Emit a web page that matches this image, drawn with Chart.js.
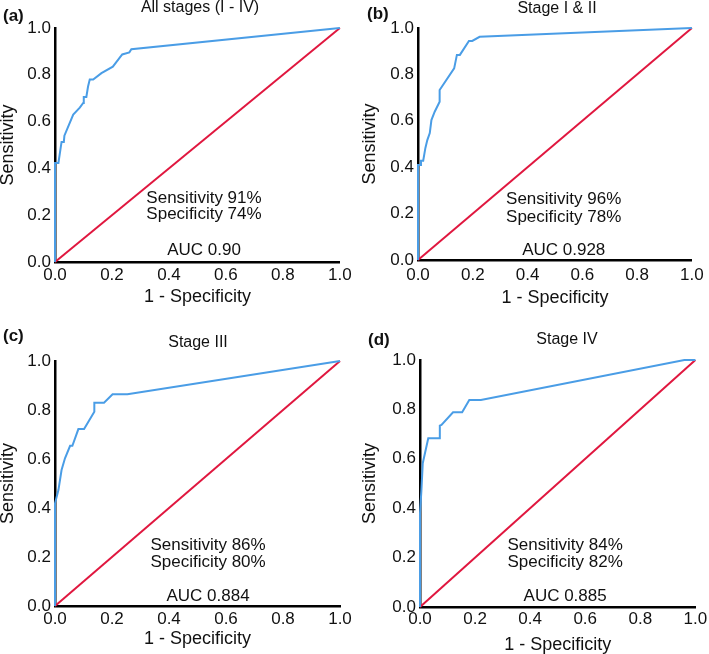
<!DOCTYPE html>
<html><head><meta charset="utf-8">
<script src="https://cdn.jsdelivr.net/npm/chart.js@4/dist/chart.umd.min.js"></script>
<style>
html,body{margin:0;padding:0;background:#fff;}
#wrap{position:relative;width:709px;height:654px;overflow:hidden;}
.panel{position:absolute;}
</style></head><body>
<div id="wrap">
<div class="panel" style="left:0;top:0;width:355px;height:320px"><canvas id="ca"></canvas></div>
<div class="panel" style="left:355px;top:0;width:354px;height:320px"><canvas id="cb"></canvas></div>
<div class="panel" style="left:0;top:320px;width:355px;height:334px"><canvas id="cc"></canvas></div>
<div class="panel" style="left:355px;top:320px;width:354px;height:334px"><canvas id="cd"></canvas></div>
</div>
<script>
// ---- data ----
const tickValues = [0, 0.2, 0.4, 0.6, 0.8, 1.0];
const tickLabels = ['0.0', '0.2', '0.4', '0.6', '0.8', '1.0'];

const fprA = [0, 0, 0.012, 0.023, 0.031, 0.033, 0.064, 0.087, 0.099, 0.101, 0.110, 0.116, 0.122, 0.134, 0.163, 0.203, 0.236, 0.261, 0.268, 1.0];
const tprA = [0, 0.423, 0.423, 0.513, 0.513, 0.540, 0.630, 0.660, 0.680, 0.705, 0.705, 0.750, 0.780, 0.780, 0.807, 0.835, 0.887, 0.896, 0.909, 1.0];

const fprB = [0, 0, 0.011, 0.011, 0.019, 0.027, 0.034, 0.043, 0.049, 0.061, 0.079, 0.079, 0.132, 0.142, 0.153, 0.186, 0.198, 0.225, 1.0];
const tprB = [0, 0.410, 0.410, 0.428, 0.428, 0.483, 0.517, 0.547, 0.603, 0.639, 0.682, 0.733, 0.826, 0.884, 0.884, 0.944, 0.944, 0.962, 1.0];

const fprC = [0, 0, 0.012, 0.023, 0.035, 0.053, 0.061, 0.082, 0.102, 0.138, 0.138, 0.172, 0.202, 0.254, 1.0];
const tprC = [0, 0.419, 0.473, 0.555, 0.603, 0.654, 0.654, 0.722, 0.722, 0.793, 0.830, 0.830, 0.864, 0.864, 1.0];

const fprD = [0, 0, 0.005, 0.010, 0.030, 0.072, 0.072, 0.078, 0.120, 0.153, 0.179, 0.221, 0.960, 1.0];
const tprD = [0, 0.380, 0.470, 0.582, 0.683, 0.683, 0.734, 0.737, 0.788, 0.788, 0.838, 0.838, 1.0, 1.0];

const refX = [0, 1];
const refY = [0, 1];

const panelLabels = ['(a)', '(b)', '(c)', '(d)'];
const panelTitles = ['All stages (I - IV)', 'Stage I & II', 'Stage III', 'Stage IV'];
const sensTexts = ['Sensitivity 91%', 'Sensitivity 96%', 'Sensitivity 86%', 'Sensitivity 84%'];
const specTexts = ['Specificity 74%', 'Specificity 78%', 'Specificity 80%', 'Specificity 82%'];
const aucTexts = ['AUC 0.90', 'AUC 0.928', 'AUC 0.884', 'AUC 0.885'];
const xTitle = '1 - Specificity';
const yTitle = 'Sensitivity';

// ---- layout / style ----
const FONT = '"Liberation Sans", Arial, sans-serif';
const BLUE = '#4a9de6';
const RED = '#e0173f';
const INK = '#111111';
const TICK_SIZE = 17, XT_SIZE = 18, YT_SIZE = 18, ANN_SIZE = 17, TITLE_SIZE = 16, LABEL_SIZE = 17;

const layouts = [
  {id:'ca', pad:{left:0,top:28,right:13,bottom:0}, yW:55, xH:58, xTickPad:3.3, yTitlePad:-2.3, xTitlePad:12.2, labelX:3, labelY:16, titleX:200, titleY:8,
   ann:{x:0.523, sens:0.274, spec:0.205, auc:0.051}},
  {id:'cb', pad:{left:0,top:28,right:11,bottom:0}, yW:63, xH:60, xTickPad:5.3, yTitlePad:4.7, xTitlePad:11.2, labelX:12, labelY:14, titleX:202, titleY:9,
   ann:{x:0.532, sens:0.263, spec:0.185, auc:0.043}},
  {id:'cc', pad:{left:0,top:41,right:15,bottom:0}, yW:55, xH:48, xTickPad:2.8, yTitlePad:-2.8, xTitlePad:4.2, labelX:3, labelY:16, titleX:198, titleY:23,
   ann:{x:0.537, sens:0.249, spec:0.178, auc:0.038}},
  {id:'cd', pad:{left:0,top:40,right:10,bottom:0}, yW:65, xH:47, xTickPad:1.8, yTitlePad:4.7, xTitlePad:-1.8, labelX:13, labelY:20, titleX:212, titleY:20,
   ann:{x:0.527, sens:0.251, spec:0.181, auc:0.042}}
];
const series = [[fprA, tprA], [fprB, tprB], [fprC, tprC], [fprD, tprD]];

function zip(xs, ys) { return xs.map((x, i) => ({x: x, y: ys[i]})); }

const textPlugin = {
  id: 'panelText',
  afterDraw(chart, args, opts) {
    const ctx = chart.ctx;
    const L = opts.layout, i = opts.index;
    const xs = chart.scales.x, ys = chart.scales.y;
    ctx.save();
    ctx.fillStyle = INK;
    ctx.textBaseline = 'middle';
    ctx.font = 'bold ' + LABEL_SIZE + 'px ' + FONT;
    ctx.textAlign = 'left';
    ctx.fillText(panelLabels[i], L.labelX, L.labelY);
    ctx.font = TITLE_SIZE + 'px ' + FONT;
    ctx.textAlign = 'center';
    ctx.fillText(panelTitles[i], L.titleX, L.titleY);
    ctx.font = ANN_SIZE + 'px ' + FONT;
    const ax = xs.getPixelForValue(L.ann.x);
    ctx.fillText(sensTexts[i], ax, ys.getPixelForValue(L.ann.sens));
    ctx.fillText(specTexts[i], ax, ys.getPixelForValue(L.ann.spec));
    ctx.fillText(aucTexts[i], ax, ys.getPixelForValue(L.ann.auc));
    ctx.restore();
  }
};

function axis(L, isX) {
  return {
    type: 'linear', min: 0, max: 1,
    grid: {display: false, drawTicks: false},
    border: {display: true, color: '#000', width: 2.5},
    afterBuildTicks(s) { s.ticks = tickValues.map(v => ({value: v})); },
    afterFit(s) { if (isX) s.height = L.xH; else s.width = L.yW; },
    ticks: {
      autoSkip: false, maxRotation: 0, minRotation: 0,
      padding: isX ? L.xTickPad : 4,
      color: INK, font: {family: FONT, size: TICK_SIZE},
      callback: (v, idx) => tickLabels[idx]
    },
    title: {
      display: true, text: isX ? xTitle : yTitle, color: INK,
      font: {family: FONT, size: isX ? XT_SIZE : YT_SIZE},
      padding: isX ? {top: 0, bottom: L.xTitlePad} : {top: L.yTitlePad, bottom: 0}
    }
  };
}

layouts.forEach((L, i) => {
  new Chart(document.getElementById(L.id), {
    type: 'scatter',
    data: {
      datasets: [
        {data: zip(series[i][0], series[i][1]), showLine: true, borderColor: BLUE, borderWidth: 2,
         pointRadius: 0, pointHoverRadius: 0, tension: 0, clip: false},
        {data: zip(refX, refY), showLine: true, borderColor: RED, borderWidth: 2,
         pointRadius: 0, pointHoverRadius: 0, tension: 0, clip: false}
      ]
    },
    options: {
      responsive: true, maintainAspectRatio: false, animation: false, devicePixelRatio: 1,
      layout: {padding: L.pad},
      plugins: {legend: {display: false}, tooltip: {enabled: false}, panelText: {layout: L, index: i}},
      scales: {x: axis(L, true), y: axis(L, false)}
    },
    plugins: [textPlugin]
  });
});
</script>
</body></html>
